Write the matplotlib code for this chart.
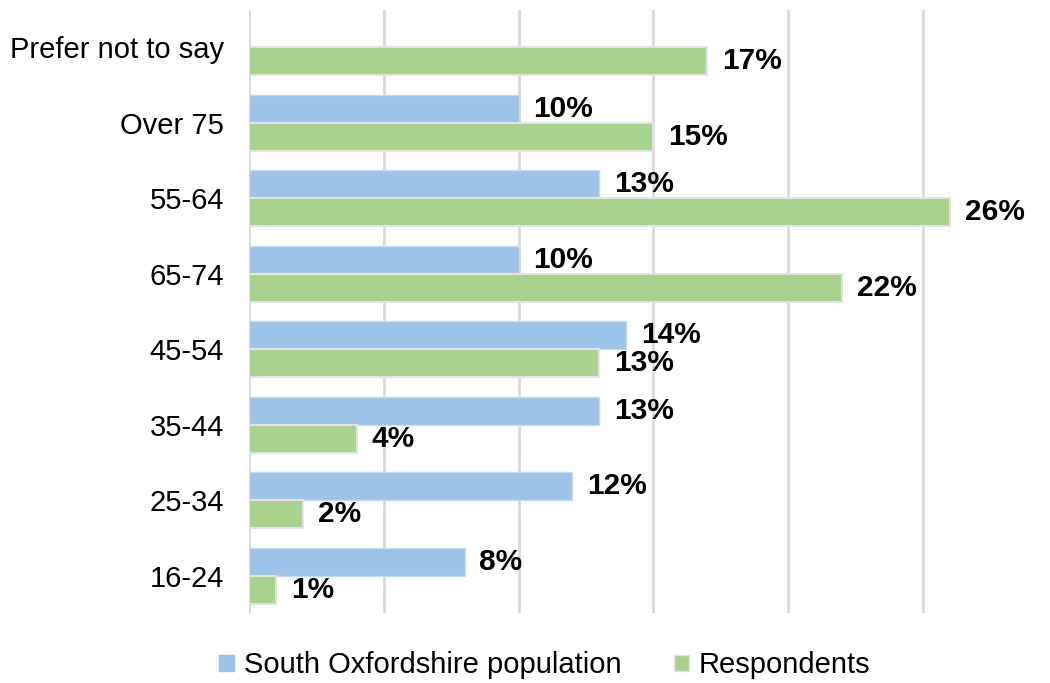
import numpy as np
import matplotlib
matplotlib.use("Agg")
import matplotlib.pyplot as plt
from matplotlib.patches import Patch

plt.rcParams['font.family'] = ['Liberation Sans', 'DejaVu Sans']

categories = ["16-24", "25-34", "35-44", "45-54", "65-74", "55-64", "Over 75", "Prefer not to say"]
population = [8, 12, 13, 14, 10, 13, 10, None]
respondents = [1, 2, 4, 13, 22, 26, 15, 17]

blue = "#9DC3E6"
green = "#A9D18E"

fig = plt.figure(figsize=(10.5, 6.83), dpi=100)
ax = fig.add_axes([0.237, 0.102, 0.75, 0.884])

y = np.arange(len(categories))
h = 0.37

for i, (p, r) in enumerate(zip(population, respondents)):
    if p is not None:
        ax.barh(y[i] + h / 2, p, height=h, color=blue, edgecolor="#C5DCF0", linewidth=1, zorder=3)
        ax.text(p + 0.55, y[i] + h / 2, f"{p}%", va="center", ha="left",
                fontsize=21.5, fontweight="bold", zorder=4)
    ax.barh(y[i] - h / 2, r, height=h, color=green, edgecolor="#E2E2E2", linewidth=1.5, zorder=3)
    ax.text(r + 0.55, y[i] - h / 2, f"{r}%", va="center", ha="left",
            fontsize=21.5, fontweight="bold", zorder=4)

ax.set_xlim(0, 29.2)
ax.set_ylim(-0.5, len(categories) - 0.5)
ax.set_xticks([0, 5, 10, 15, 20, 25])
ax.set_xticklabels([])
ax.grid(axis="x", color="#D9D9D9", linewidth=2, zorder=0)
ax.set_yticks(y)
ax.set_yticklabels(categories, fontsize=21)
ax.tick_params(axis="y", length=0, pad=18)
ax.tick_params(axis="x", length=0)
for s in ax.spines.values():
    s.set_visible(False)

handles = [Patch(color=blue), Patch(color=green, ec="#E2E2E2")]
fig.legend(handles, ["South Oxfordshire population", "Respondents"],
           loc="center", bbox_to_anchor=(0.519, 0.026), ncol=2, frameon=False,
           fontsize=21, handlelength=0.5, handleheight=0.5, handletextpad=0.35,
           columnspacing=1.8)

fig.savefig("out.png", dpi=100)
